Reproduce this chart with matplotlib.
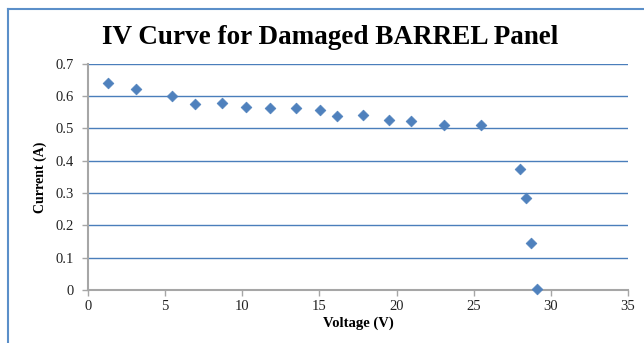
import matplotlib
matplotlib.use("Agg")
import matplotlib.pyplot as plt
from matplotlib.lines import Line2D

voltage = [1.28, 3.09, 5.43, 6.92, 8.69, 10.26, 11.80, 13.48, 15.04, 16.12,
           17.80, 19.49, 20.94, 23.07, 25.50, 28.02, 28.37, 28.71, 29.08]
current = [0.640, 0.621, 0.601, 0.576, 0.578, 0.567, 0.564, 0.562, 0.557, 0.538,
           0.541, 0.526, 0.524, 0.511, 0.509, 0.373, 0.284, 0.144, 0.002]
x_ticks = [0, 5, 10, 15, 20, 25, 30, 35]
y_ticks = [0, 0.1, 0.2, 0.3, 0.4, 0.5, 0.6, 0.7]
y_tick_labels = ["0", "0.1", "0.2", "0.3", "0.4", "0.5", "0.6", "0.7"]

W, H = 644, 343
fig = plt.figure(figsize=(W / 100, H / 100), dpi=100)
fig.patch.set_facecolor("white")

serif = ["Liberation Serif", "DejaVu Serif"]
grid_blue = "#4A7EBB"
axis_grey = "#A6A6A6"
marker_blue = "#4F81BD"

# plot area in pixels
left, right, top, bottom = 88, 628, 63.7, 290
ax = fig.add_axes([left / W, 1 - bottom / H, (right - left) / W, (bottom - top) / H])
ax.set_xlim(0, 35)
ax.set_ylim(0, 0.7)

ax.scatter(voltage, current, marker="D", s=30, color=marker_blue,
           edgecolors=marker_blue, linewidths=0.5, zorder=3, clip_on=False)

ax.set_xticks(x_ticks)
ax.set_xticklabels([str(t) for t in x_ticks], fontfamily=serif, fontsize=10.5)
ax.set_yticks(y_ticks)
ax.set_yticklabels(y_tick_labels, fontfamily=serif, fontsize=10.5)
ax.tick_params(axis="both", direction="out", length=4, width=1, color=axis_grey,
               labelcolor="#222222")
ax.tick_params(axis="y", pad=6)
ax.tick_params(axis="x", pad=3)

for y in y_ticks[1:]:
    ax.axhline(y, color=grid_blue, linewidth=1, zorder=1)

for side in ["top", "right"]:
    ax.spines[side].set_visible(False)
for side in ["left", "bottom"]:
    ax.spines[side].set_color(axis_grey)
    ax.spines[side].set_linewidth(1.5)
    ax.spines[side].set_zorder(2)

ax.set_xlabel("Voltage (V)", fontfamily=serif, fontsize=10.5, fontweight="bold",
              labelpad=3)
ax.set_ylabel("Current (A)", fontfamily=serif, fontsize=10, fontweight="bold",
              labelpad=6)

fig.text(330 / W, 1 - 37 / H, "IV Curve for Damaged BARREL Panel",
         ha="center", va="center", fontfamily=serif, fontsize=19.5,
         fontweight="bold", color="black")

# chart frame
frame = "#5B8FC9"
fig.add_artist(Line2D([7.5 / W, 1], [1 - 8.5 / H, 1 - 8.5 / H],
                      transform=fig.transFigure, color=frame, linewidth=1.5))
fig.add_artist(Line2D([7.5 / W, 7.5 / W], [0, 1 - 8.5 / H],
                      transform=fig.transFigure, color=frame, linewidth=1.5))

fig.savefig("out.png", dpi=100)
